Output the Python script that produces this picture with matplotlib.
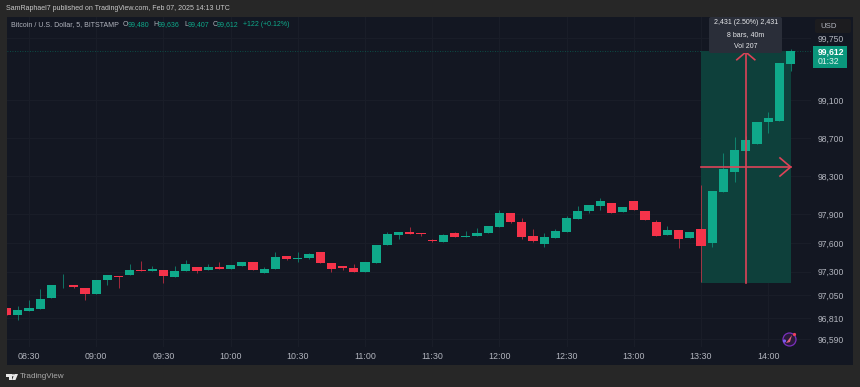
import matplotlib
matplotlib.use("Agg")
import matplotlib.pyplot as plt
from matplotlib.patches import Rectangle, Circle, Polygon, FancyBboxPatch

# ---- data, 5-minute bars from 08:20 to 14:10 ----
opens = [96920, 96839, 96888, 96905, 97017, 97164, 97157, 97122, 97066, 97206,
         97252, 97259, 97318, 97301, 97318, 97241, 97301, 97343, 97315, 97350,
         97325, 97357, 97399, 97287, 97322, 97458, 97430, 97437, 97500, 97388,
         97357, 97332, 97290, 97385, 97581, 97682, 97710, 97703, 97630, 97612,
         97703, 97658, 97672, 97700, 97770, 97910, 97819, 97668, 97588, 97655,
         97714, 97854, 97938, 97990, 98018, 97920, 98040, 97931, 97822, 97686,
         97738, 97651, 97749, 97595, 98134, 98344, 98561, 98641, 98871, 98882,
         99480]
highs = [96920, 96940, 97000, 97112, 97157, 97270, 97157, 97122, 97206, 97262,
         97252, 97378, 97413, 97357, 97318, 97357, 97420, 97343, 97378, 97399,
         97364, 97399, 97399, 97343, 97507, 97458, 97504, 97490, 97507, 97388,
         97357, 97375, 97399, 97577, 97717, 97710, 97770, 97703, 97637, 97693,
         97710, 97728, 97752, 97774, 97945, 97910, 97857, 97742, 97700, 97742,
         97882, 97987, 97997, 98067, 98018, 97973, 98040, 97931, 97840, 97777,
         97738, 97714, 98207, 98145, 98547, 98715, 98720, 98871, 98976, 99484,
         99636]
lows = [96839, 96790, 96888, 96905, 97017, 97130, 97122, 97000, 97066, 97157,
        97130, 97259, 97301, 97301, 97175, 97241, 97301, 97280, 97315, 97322,
        97325, 97357, 97312, 97287, 97322, 97420, 97402, 97427, 97385, 97297,
        97315, 97290, 97290, 97385, 97581, 97637, 97696, 97672, 97609, 97612,
        97661, 97658, 97672, 97700, 97770, 97805, 97644, 97612, 97553, 97655,
        97714, 97854, 97910, 97945, 97913, 97920, 97945, 97843, 97675, 97686,
        97550, 97651, 97189, 97553, 98134, 98242, 98561, 98641, 98749, 98882,
        99407]
closes = [96839, 96895, 96912, 97014, 97157, 97171, 97140, 97063, 97206, 97262,
          97241, 97315, 97301, 97329, 97255, 97308, 97375, 97301, 97346, 97322,
          97364, 97399, 97312, 97325, 97455, 97434, 97437, 97479, 97385, 97329,
          97340, 97290, 97399, 97577, 97693, 97710, 97696, 97693, 97616, 97679,
          97661, 97675, 97700, 97774, 97910, 97815, 97661, 97619, 97658, 97721,
          97857, 97938, 97997, 98040, 97913, 97973, 97945, 97843, 97675, 97738,
          97644, 97714, 97571, 98145, 98372, 98575, 98676, 98871, 98906, 99484,
          99612]
time_labels = ["08:30", "09:00", "09:30", "10:00", "10:30", "11:00", "11:30",
               "12:00", "12:30", "13:00", "13:30", "14:00"]
time_bars = [2, 8, 14, 20, 26, 32, 38, 44, 50, 56, 62, 68]
price_ticks = [99750, 99100, 98700, 98300, 97900, 97600, 97300, 97050, 96810, 96590]
last_price = 99612
range_low = 97181
range_start_bar, range_end_bar = 62, 70

UP, DOWN = "#0fa98a", "#f5334a"
OUTER, PANEL, GRID = "#272727", "#131722", "#1a1e29"
TXT = "#b2b5be"
FONT = "Liberation Sans"
plt.rcParams["font.family"] = FONT
W, H = 860, 387

fig = plt.figure(figsize=(W / 100, H / 100), dpi=100, facecolor=OUTER)

def pixel_axes(z):
    a = fig.add_axes([0, 0, 1, 1], zorder=z)
    a.set_xlim(0, W)
    a.set_ylim(H, 0)
    a.axis("off")
    a.patch.set_alpha(0)
    return a

bg = pixel_axes(0)
bg.add_patch(Rectangle((7, 17), 846, 348, fc=PANEL, ec="none"))

# main axes: x 7..811 px, y 17..347 px
ax = fig.add_axes([7 / W, 1 - 347 / H, 804 / W, 330 / H], zorder=1)
ax.patch.set_alpha(0)
for s in ax.spines.values():
    s.set_visible(False)
ax.set_xlim(0.036, 71.82)
ax.set_ylim(96508, 99970)
ax.yaxis.tick_right()
ax.set_yticks(price_ticks)
ax.set_yticklabels([f"{p:,}" for p in price_ticks])
ax.set_xticks(time_bars)
ax.set_xticklabels(time_labels)
ax.tick_params(axis="y", length=0, pad=5.0, labelsize=6.2, labelcolor=TXT)
ax.tick_params(axis="x", length=0, pad=3.5, labelsize=6.4, labelcolor=TXT)
ax.grid(True, color=GRID, lw=0.7)
ax.set_axisbelow(True)

# last price line
ax.axhline(last_price, color="#0b5e52", lw=0.6, ls=(0, (1, 2)), zorder=1)

# measured range
ax.add_patch(Rectangle((range_start_bar, range_low), range_end_bar - range_start_bar,
                       last_price - range_low, fc="#0e403b", ec="none", zorder=1.5))

# candles
for i, (o, h, l, c) in enumerate(zip(opens, highs, lows, closes)):
    col = UP if c >= o else DOWN
    ax.vlines(i, l, h, color=col, lw=0.6, zorder=3, alpha=0.75)
    ax.bar(i, abs(c - o), bottom=min(o, c), width=0.82, color=col, lw=0, zorder=3)

# measure arrows
RED = "#dd4358"
mid_bar = (range_start_bar + range_end_bar) / 2
mid_price = (range_low + last_price) / 2
ax.plot([mid_bar, mid_bar], [range_low, last_price], color=RED, lw=1.2, zorder=4)
ax.plot([range_start_bar, range_end_bar], [mid_price, mid_price], color=RED, lw=1.2, zorder=4)
ax.plot([mid_bar - 0.8, mid_bar, mid_bar + 0.8],
        [last_price - 90, last_price - 10, last_price - 90], color=RED, lw=1.2, zorder=4)
ax.plot([range_end_bar - 0.95, range_end_bar, range_end_bar - 0.95],
        [mid_price + 95, mid_price, mid_price - 95], color=RED, lw=1.2, zorder=4)

# overlay in pixel coordinates
ov = pixel_axes(2)
ov.text(6, 9, "SamRaphael7 published on TradingView.com, Feb 07, 2025 14:13 UTC",
        color="#c8c8c8", fontsize=5.0, va="center", ha="left")

parts = [(11, "Bitcoin / U.S. Dollar, 5, BITSTAMP", TXT), (123, "O", TXT), (128, "99,480", UP),
         (153, "H", TXT), (158, "99,636", UP), (184, "L", TXT), (188, "99,407", UP),
         (213, "C", TXT), (217, "99,612", UP), (243, "+122 (+0.12%)", UP)]
for x, s, c in parts:
    ov.text(x, 25, s, color=c, fontsize=5.0, va="center", ha="left")

# tooltip
ov.add_patch(FancyBboxPatch((709, 17), 73, 36, boxstyle="round,pad=0,rounding_size=2",
                            fc="#2a2e39", ec="none"))
for y, s in [(23, "2,431 (2.50%) 2,431"), (35, "8 bars, 40m"), (47, "Vol 207")]:
    ov.text(746, y, s, color="#e6e7ea", fontsize=5.0, ha="center", va="center")

# USD button and price label
ov.add_patch(FancyBboxPatch((815, 19), 36, 14, boxstyle="round,pad=0,rounding_size=2",
                            fc="#1c1c1f", ec="none"))
ov.text(820, 26, "USD", color=TXT, fontsize=5.6, va="center")
ov.add_patch(Rectangle((813, 46), 34, 22, fc="#0a977c", ec="none"))
ov.text(818, 51.5, f"{last_price:,}", color="white", fontsize=6.2, fontweight="bold", va="center")
ov.text(818, 61, "01:32", color="#dff2ee", fontsize=6.2, va="center")

# emblem
ov.add_patch(Circle((789.5, 339.5), 6.5, fc="#2a1a3a", ec="#7b2fbe", lw=0.9))
ov.add_patch(Polygon([[786, 343], [792, 335], [790, 342]], fc="#e0607a", ec="none"))
ov.add_patch(Circle((784.5, 341), 1.6, fc="#7a5cf0", ec="none"))
ov.add_patch(Circle((794.5, 334.5), 1.6, fc="#f0405a", ec="none"))

# TradingView logo
LOGO = "#e8e8e8"
ov.add_patch(Polygon([[6, 374], [11.5, 374], [11.5, 380], [9, 380], [9, 376.5], [6, 376.5]], fc=LOGO, ec="none"))
ov.add_patch(Circle((13, 375.3), 1.2, fc=LOGO, ec="none"))
ov.add_patch(Polygon([[14.5, 374], [18, 374], [15.5, 380], [12, 380]], fc=LOGO, ec="none"))
ov.text(20, 377, "TradingView", color="#a8a8a8", fontsize=5.9, va="center", ha="left")

fig.savefig("out.png", dpi=100, facecolor=OUTER)
